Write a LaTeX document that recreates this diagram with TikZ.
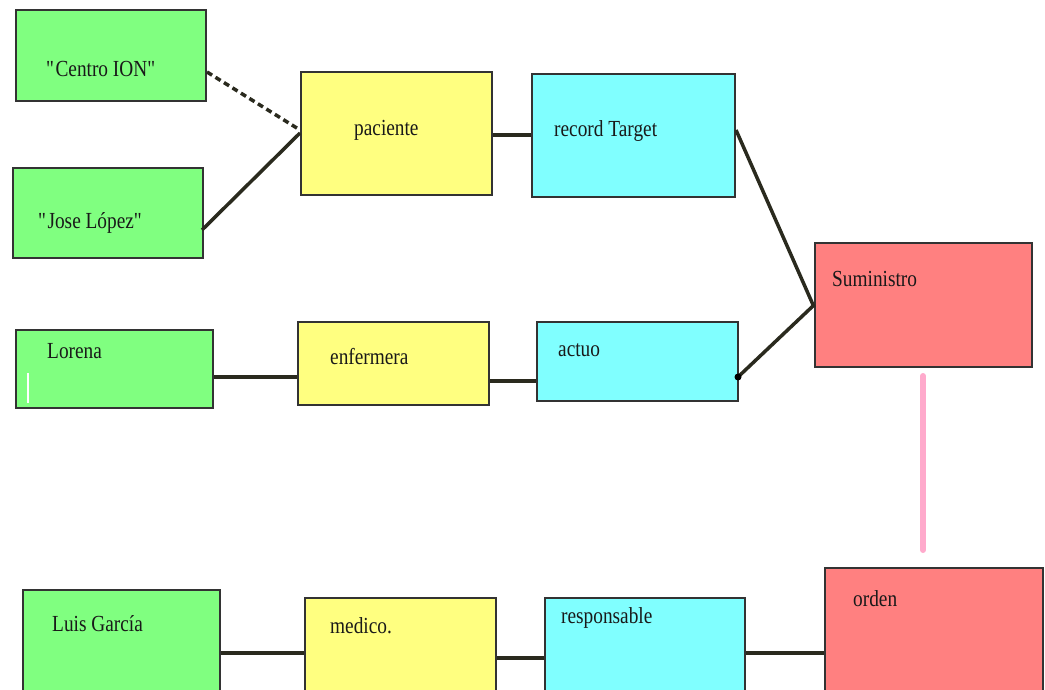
\documentclass[tikz,border=0pt]{standalone}
\usepackage{fontspec}
\setmainfont{Liberation Serif}[FakeStretch=0.84]
\usetikzlibrary{calc}
\definecolor{gfill}{HTML}{80FF80}
\definecolor{yfill}{HTML}{FFFF80}
\definecolor{cfill}{HTML}{80FFFF}
\definecolor{rfill}{HTML}{FF8080}
\definecolor{edge}{HTML}{333333}
\definecolor{wire}{HTML}{2A2A1E}
\definecolor{pinkwire}{HTML}{FFAACC}
\tikzset{
  box/.style={draw=edge, line width=2pt, inner sep=0pt, rectangle},
  gbox/.style={box, fill=gfill},
  ybox/.style={box, fill=yfill},
  cbox/.style={box, fill=cfill},
  rbox/.style={box, fill=rfill},
  txt/.style={anchor=west, inner sep=0pt, text=black!90, font=\fontsize{23}{26}\selectfont},
  link/.style={draw=wire, line width=3.5pt},
  dlink/.style={link, dash pattern=on 6pt off 4pt},
  pinklink/.style={draw=pinkwire, line width=6pt, line cap=round},
}
\begin{document}
\begin{tikzpicture}[x=1pt, y=-1pt]
\useasboundingbox (0,0) rectangle (1045,690);
\clip (0,0) rectangle (1045,690);
% people
\node[gbox, minimum width=190pt, minimum height=91pt] (ion) at (111,55.5) {};
\node[gbox, minimum width=190pt, minimum height=90pt] (jose) at (108,213) {};
\node[gbox, minimum width=197pt, minimum height=78pt] (lorena) at (114.5,369) {};
\node[gbox, minimum width=197pt, minimum height=110pt] (luis) at (121.5,645) {};
% roles
\node[ybox, minimum width=191pt, minimum height=123pt] (pac) at (396.5,133.5) {};
\node[ybox, minimum width=191pt, minimum height=83pt] (enf) at (393.5,363.5) {};
\node[ybox, minimum width=191pt, minimum height=102pt] (med) at (400.5,649) {};
% participations
\node[cbox, minimum width=203pt, minimum height=123pt] (rec) at (633.5,135.5) {};
\node[cbox, minimum width=201pt, minimum height=79pt] (act) at (637.5,361.5) {};
\node[cbox, minimum width=200pt, minimum height=102pt] (resp) at (645,649) {};
% acts
\node[rbox, minimum width=217pt, minimum height=124pt] (sum) at (923.5,305) {};
\node[rbox, minimum width=218pt, minimum height=132pt] (ord) at (934,634) {};
% labels
\node[txt] (tion) at (46,69) {\textquotedbl Centro ION\textquotedbl};
\node[txt] (tjose) at (38,223) {\textquotedbl Jose López\textquotedbl};
\node[txt] (tlor) at (47,351) {Lorena};
\node[txt] (tluis) at (52,624) {Luis García};
\node[txt] (tpac) at (354,130) {paciente};
\node[txt] (tenf) at (330,357) {enfermera};
\node[txt] (tmed) at (330,626) {medico.};
\node[txt] (trec) at (554,131) {record Target};
\node[txt] (tact) at (558,350) {actuo};
\node[txt] (tresp) at (561,618) {responsable};
\node[txt] (tsum) at (832,279) {Suministro};
\node[txt] (tord) at (853,599) {orden};
% stray white mark inside Lorena
\draw[white, line width=1.5pt] ([xshift=13pt,yshift=-4pt]lorena.west) -- ([xshift=13pt,yshift=-34pt]lorena.west);
% connectors
\draw[dlink] ([yshift=-16.5pt]ion.east) -- ([yshift=3.5pt]pac.west);
\draw[link] ([xshift=-2pt,yshift=-17pt]jose.east) -- ([yshift=0.5pt]pac.west);
\draw[link] ([yshift=-1.5pt]pac.east) -- ([yshift=0.5pt]rec.west);
\draw[link] ([yshift=5.5pt]rec.east) -- ([yshift=-2pt]sum.west);
\draw[link] ([xshift=-1pt,yshift=-15.5pt]act.east) -- (sum.west);
\fill[black] ([xshift=-1pt,yshift=-15.5pt]act.east) circle (3.5pt);
\draw[link] ([yshift=-8pt]lorena.east) -- ([yshift=-13.5pt]enf.west);
\draw[link] ([yshift=-17.5pt]enf.east) -- ([yshift=-19.5pt]act.west);
\draw[link] ([yshift=-8pt]luis.east) -- ([yshift=-4pt]med.west);
\draw[link] ([yshift=-9pt]med.east) -- ([yshift=-9pt]resp.west);
\draw[link] ([yshift=-4pt]resp.east) -- ([yshift=-19pt]ord.west);
\draw[pinklink] ([xshift=-0.5pt,yshift=-8pt]sum.south) -- ([xshift=-0.5pt,yshift=17pt]sum.south |- ord.north);
\end{tikzpicture}
\end{document}
